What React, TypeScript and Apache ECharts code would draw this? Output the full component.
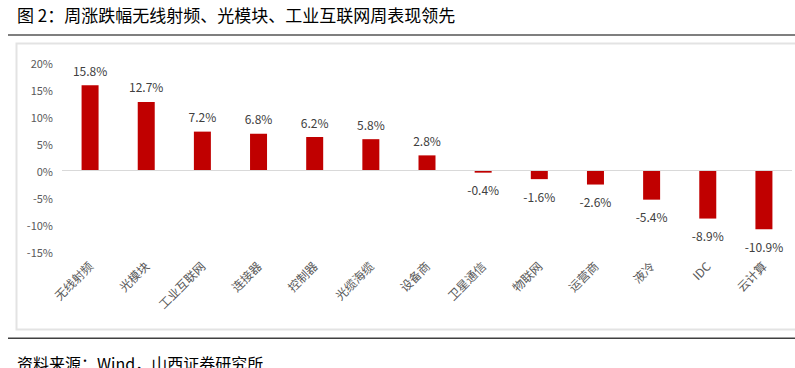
import React, { useEffect, useRef } from "react";
import * as echarts from "echarts";

const categories = ["无线射频", "光模块", "工业互联网", "连接器", "控制器", "光缆海缆", "设备商", "卫星通信", "物联网", "运营商", "液冷", "IDC", "云计算"];
const changes = [15.8, 12.7, 7.2, 6.8, 6.2, 5.8, 2.8, -0.4, -1.6, -2.6, -5.4, -8.9, -10.9];
const titleText = "图 2：周涨跌幅无线射频、光模块、工业互联网周表现领先";
const sourceText = "资料来源：Wind，山西证券研究所";

const FONT = "'Noto Sans CJK SC', 'Noto Sans', sans-serif";

export default function App() {
  const ref = useRef<HTMLDivElement>(null);
  useEffect(() => {
    document.body.style.margin = "0";
    const chart = echarts.init(ref.current!, null, { renderer: "svg" });
    chart.setOption({
      animation: false,
      textStyle: { fontFamily: FONT },
      grid: { left: 62, right: 3, top: 62.5, bottom: 116.5, containLabel: false },
      graphic: [
        { type: "text", left: 17, top: 6, style: { text: titleText, font: `17px ${FONT}`, fill: "#000" } },
        { type: "rect", shape: { x: 8, y: 34, width: 787, height: 2 }, style: { fill: "#7f7f7f" } },
        { type: "rect", shape: { x: 16.5, y: 43.5, width: 790, height: 286 }, style: { fill: "none", stroke: "#e3e3e3", lineWidth: 2 } },
        { type: "rect", shape: { x: 8, y: 337.5, width: 787, height: 1.5 }, style: { fill: "#404040" } },
        { type: "text", left: 17, top: 355, style: { text: sourceText, font: `16px ${FONT}`, fill: "#000" } },
      ],
      xAxis: {
        type: "category",
        data: categories,
        axisLine: { show: false },
        axisTick: { show: false },
        axisLabel: { rotate: 45, margin: 12, color: "#595959", fontSize: 12, interval: 0 },
      },
      yAxis: {
        type: "value",
        min: -15,
        max: 20,
        interval: 5,
        splitLine: { show: false },
        axisLine: { show: false },
        axisTick: { show: false },
        axisLabel: { formatter: "{value}%", color: "#595959", fontSize: 11, margin: 9 },
      },
      series: [
        {
          type: "bar",
          barWidth: 17,
          itemStyle: { color: "#C00000" },
          data: changes.map((v) => ({
            value: v,
            label: { position: v >= 0 ? "top" : "bottom", distance: v >= 0 ? 9 : 11 },
          })),
          label: {
            show: true,
            formatter: (p: any) => `${p.value.toFixed(1)}%`,
            color: "#404040",
            fontSize: 12,
          },
          markLine: {
            silent: true,
            symbol: "none",
            label: { show: false },
            lineStyle: { color: "#d9d9d9", type: "solid", width: 1 },
            data: [{ yAxis: 0 }],
          },
        },
      ],
    });
    return () => chart.dispose();
  }, []);
  return <div ref={ref} style={{ width: 795, height: 368 }} />;
}
